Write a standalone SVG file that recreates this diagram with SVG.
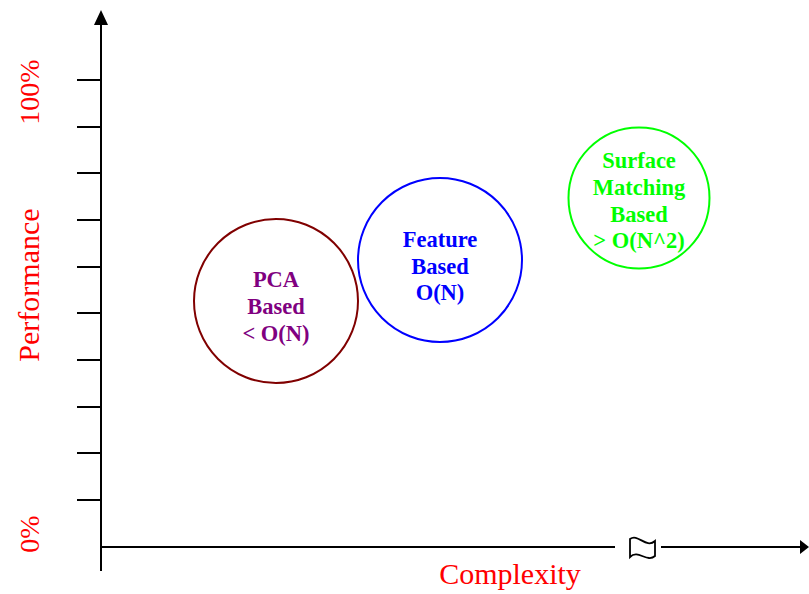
<svg xmlns="http://www.w3.org/2000/svg" width="809" height="594" viewBox="0 0 809 594">
<style>
.ax{stroke:#000;stroke-width:2;fill:none}
.lbl{font-family:"Liberation Serif","Times New Roman",serif;fill:#f00}
.nt{font-family:"Liberation Serif","Times New Roman",serif;font-weight:bold;font-size:22.5px;text-anchor:middle}
</style>
<rect width="809" height="594" fill="#fff"/>
<g id="connectors">
<line class="ax" x1="101" y1="571" x2="101" y2="25"/>
<path d="M94,25 L101,10 L108,25 Z" fill="#000"/>
<g class="ax">
<line x1="77" y1="80" x2="101" y2="80"/>
<line x1="77" y1="127" x2="101" y2="127"/>
<line x1="77" y1="173" x2="101" y2="173"/>
<line x1="77" y1="220" x2="101" y2="220"/>
<line x1="77" y1="267" x2="101" y2="267"/>
<line x1="77" y1="313" x2="101" y2="313"/>
<line x1="77" y1="360" x2="101" y2="360"/>
<line x1="77" y1="407" x2="101" y2="407"/>
<line x1="77" y1="453" x2="101" y2="453"/>
<line x1="77" y1="500" x2="101" y2="500"/>
</g>
<line class="ax" x1="101" y1="547" x2="615" y2="547"/>
<line class="ax" x1="661" y1="547" x2="800" y2="547"/>
<path d="M800,540 L809,547 L800,554 Z" fill="#000"/>
<path d="M630,539 C638,533 646,549 655,541 L655,556 C647,563 638,549 630,557 Z" fill="#fff" stroke="#000" stroke-width="1.8"/>
</g>
<text class="lbl" font-size="28" transform="translate(39,92) rotate(-90)" text-anchor="middle">100%</text>
<text class="lbl" font-size="30" transform="translate(39,285) rotate(-90)" text-anchor="middle">Performance</text>
<text class="lbl" font-size="28" transform="translate(39,534) rotate(-90)" text-anchor="middle">0%</text>
<text class="lbl" font-size="30" x="510" y="584" text-anchor="middle">Complexity</text>
<g id="pca">
<circle cx="276" cy="301" r="82" fill="none" stroke="#800000" stroke-width="2"/>
<text class="nt" fill="#800080"><tspan x="276" y="287">PCA</tspan><tspan x="276" y="314">Based</tspan><tspan x="276" y="341">&lt; O(N)</tspan></text>
</g>
<g id="feature">
<circle cx="440" cy="260" r="82" fill="none" stroke="#0000ff" stroke-width="2"/>
<text class="nt" fill="#0000ff"><tspan x="440" y="247">Feature</tspan><tspan x="440" y="274">Based</tspan><tspan x="440" y="300">O(N)</tspan></text>
</g>
<g id="surface">
<circle cx="639" cy="198" r="70.5" fill="none" stroke="#00ff00" stroke-width="2"/>
<text class="nt" fill="#00ff00"><tspan x="639" y="168">Surface</tspan><tspan x="639" y="195">Matching</tspan><tspan x="639" y="222">Based</tspan><tspan x="639" y="248">&gt; O(N^2)</tspan></text>
</g>
</svg>
